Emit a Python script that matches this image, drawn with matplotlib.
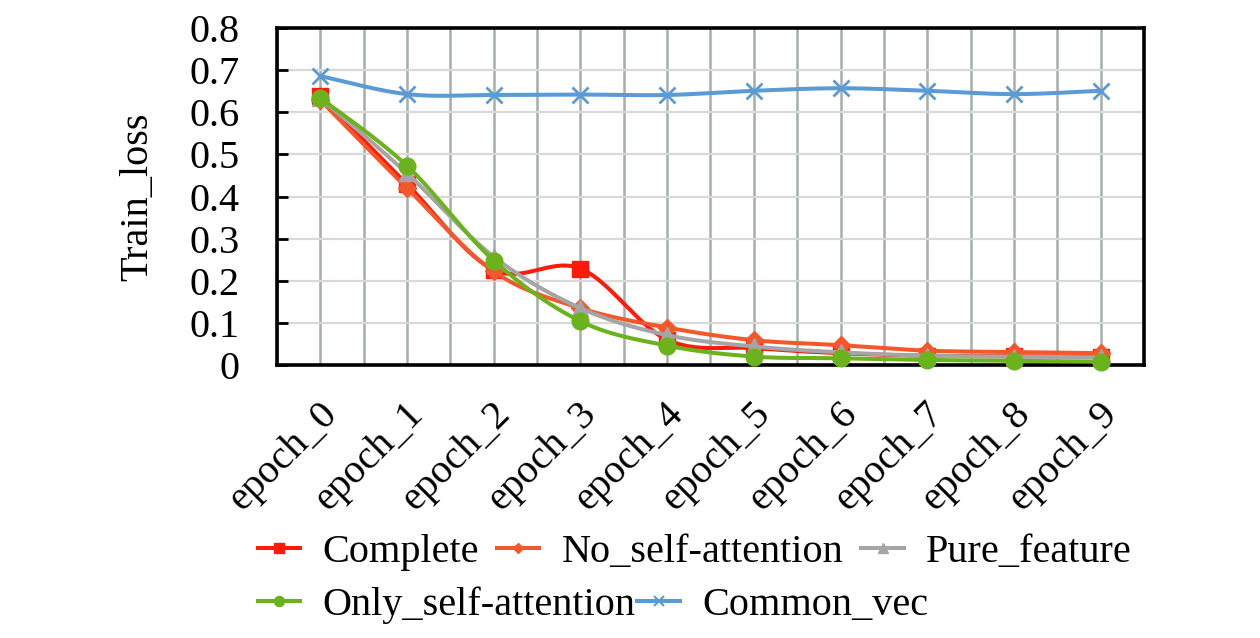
import numpy as np
import matplotlib
matplotlib.use("Agg")
import matplotlib.pyplot as plt
import matplotlib.transforms as mtrans
from matplotlib.lines import Line2D

categories = ["epoch_0", "epoch_1", "epoch_2", "epoch_3", "epoch_4",
              "epoch_5", "epoch_6", "epoch_7", "epoch_8", "epoch_9"]
complete = [0.639, 0.429, 0.226, 0.229, 0.060, 0.040, 0.028, 0.022, 0.021, 0.020]
no_self_attention = [0.629, 0.420, 0.222, 0.135, 0.089, 0.059, 0.047, 0.034, 0.031, 0.028]
pure_feature = [0.634, 0.455, 0.257, 0.135, 0.071, 0.044, 0.030, 0.022, 0.020, 0.018]
only_self_attention = [0.634, 0.473, 0.248, 0.104, 0.046, 0.020, 0.016, 0.012, 0.010, 0.008]
common_vec = [0.686, 0.643, 0.641, 0.642, 0.641, 0.651, 0.657, 0.651, 0.643, 0.651]
y_ticks = [0, 0.1, 0.2, 0.3, 0.4, 0.5, 0.6, 0.7, 0.8]
y_tick_labels = ["0", "0.1", "0.2", "0.3", "0.4", "0.5", "0.6", "0.7", "0.8"]

series = [
    ("Complete", complete, "#FF1A0A", "s", 12),
    ("No_self-attention", no_self_attention, "#F4582A", "D", 9),
    ("Pure_feature", pure_feature, "#A5A5A5", "^", 12),
    ("Only_self-attention", only_self_attention, "#6BB31C", "o", 12),
    ("Common_vec", common_vec, "#5B9BD5", "x", 11),
]

plt.rcParams["font.family"] = ["Liberation Serif", "DejaVu Serif"]
FS = 29


def smooth(xs, ys, n=30):
    """Catmull-Rom style Bezier smoothing (like spreadsheet smoothed lines)."""
    P = np.column_stack([xs, ys]).astype(float)
    Pe = np.vstack([P[0], P, P[-1]])
    out = []
    for i in range(len(P) - 1):
        p0, p1, p2, p3 = Pe[i], Pe[i + 1], Pe[i + 2], Pe[i + 3]
        c1 = p1 + (p2 - p0) / 6.0
        c2 = p2 - (p3 - p1) / 6.0
        t = np.linspace(0, 1, n)[:, None]
        seg = ((1 - t) ** 3) * p1 + 3 * ((1 - t) ** 2) * t * c1 + 3 * (1 - t) * t ** 2 * c2 + t ** 3 * p2
        out.append(seg if i == 0 else seg[1:])
    c = np.vstack(out)
    return c[:, 0], c[:, 1]


fig = plt.figure(figsize=(12.6, 6.38), dpi=100)
ax = fig.add_axes([0.2198, 0.4279, 0.9079 - 0.2198, 0.9561 - 0.4279])

x = np.arange(len(categories))
handles = {}
for z, (name, vals, col, mk, ms) in enumerate(series):
    sx, sy = smooth(x, vals)
    ax.plot(sx, sy, color=col, lw=2.9, zorder=3 + z, solid_capstyle="round", clip_on=False)
    ax.plot(x, vals, linestyle="none", marker=mk, markersize=ms, color=col,
            markeredgecolor=col, markeredgewidth=2.0 if mk == "x" else 1, zorder=3 + z,
            clip_on=False)
    handles[name] = Line2D([], [], color=col, lw=2.9, marker=mk,
                           markersize=ms * 0.6, markeredgecolor=col,
                           markeredgewidth=1.5 if mk == "x" else 1)

ax.set_xlim(-0.5, len(categories) - 0.5)
ax.set_ylim(0, 0.8)
ax.set_yticks(y_ticks)
ax.set_yticklabels(y_tick_labels, fontsize=FS)
ax.set_xticks(x)
ax.set_xticklabels([""] * len(categories))
ax.set_xticks(np.arange(-0.5, len(categories), 1.0), minor=True)

# category labels, rotated 45 degrees, anchored under each category position
lab_tr = ax.get_xaxis_transform() + mtrans.ScaledTranslation(11 / 100, -43 / 100,
                                                             fig.dpi_scale_trans)
for xi, lab in zip(x, categories):
    ax.text(xi, 0, lab, transform=lab_tr, fontsize=FS, rotation=45, ha="right",
            va="center", rotation_mode="anchor", clip_on=False)

ax.grid(axis="y", which="major", color="#D9D9D9", lw=1.6, zorder=0)
ax.grid(axis="x", which="both", color="#A7ACAC", lw=1.8, zorder=0)
ax.set_axisbelow(True)

ax.tick_params(axis="y", direction="in", length=8, width=2, pad=27, colors="black")
ax.tick_params(axis="x", which="both", length=0)
for s in ax.spines.values():
    s.set_linewidth(2.6)
    s.set_color("black")
    s.set_zorder(2.5)

ax.set_ylabel("Train_loss", fontsize=FS, labelpad=24)

leg_kw = dict(frameon=False, fontsize=FS, handlelength=1.05, handletextpad=0.55,
              borderaxespad=0, borderpad=0)
row1 = ["Complete", "No_self-attention", "Pure_feature"]
row2 = ["Only_self-attention", "Common_vec"]
l1 = fig.legend([handles[n] for n in row1], row1, ncol=3, columnspacing=0.45,
                loc="center left", bbox_to_anchor=(258 / 1260, 1 - 552 / 638), **leg_kw)
l2 = fig.legend([handles[n] for n in row2], row2, ncol=2, columnspacing=0.05,
                loc="center left", bbox_to_anchor=(258 / 1260, 1 - 605 / 638), **leg_kw)

fig.savefig("out.png", dpi=100)
